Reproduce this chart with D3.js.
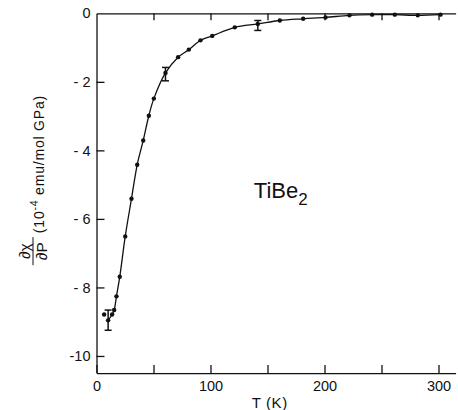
<!DOCTYPE html>
<html>
<head>
<meta charset="utf-8">
<script src="https://cdn.jsdelivr.net/npm/d3@7"></script>
<style>
  html, body { margin: 0; padding: 0; background: #fff; }
  svg { display: block; }
  text { font-family: "Liberation Sans", Arial, sans-serif; fill: #111; }
</style>
</head>
<body>
<svg id="chart" width="458" height="410"></svg>
<script>
// ---- data ----
const temps = [6.7, 10.2, 13.7, 15.5, 17.5, 20.4, 25.2, 30.7, 35.7, 41, 45.9, 50.3, 60.5, 71.6, 81, 91.2, 101.5, 121.3, 141.5, 160.8, 181.3, 200.9, 221.9, 241.8, 261.7, 281.8, 301.8];
const dchi  = [-8.79, -8.96, -8.79, -8.66, -8.26, -7.69, -6.51, -5.41, -4.42, -3.71, -2.99, -2.49, -1.74, -1.28, -1.06, -0.79, -0.66, -0.41, -0.31, -0.21, -0.16, -0.12, -0.06, -0.04, -0.04, -0.06, -0.04];
const errT    = [10.2, 60.5, 141.5];
const errLow  = [-9.25, -1.97, -0.50];
const errHigh = [-8.66, -1.58, -0.21];
const xTicks = [0, 50, 100, 150, 200, 250, 300];
const xTickLabels = ["0", "", "100", "", "200", "", "300"];
const yTicks = [0, -2, -4, -6, -8, -10];
const yTickLabels = ["0", "- 2", "- 4", "- 6", "- 8", "-10"];
const compoundName = "TiBe";
const compoundSub = "2";
const xTitle = "T (K)";

// ---- layout ----
const svg = d3.select("#chart");
const x = d3.scaleLinear().domain([0, 315]).range([96.5, 455.6]);
const y = d3.scaleLinear().domain([-10.5, 0]).range([373.1, 13.3]);

const axisStyle = g => {
  g.selectAll("path.domain").attr("stroke", "#111").attr("stroke-width", 1.3);
  g.selectAll(".tick line").attr("stroke", "#111").attr("stroke-width", 1.3);
  g.selectAll(".tick text").attr("font-size", 14.5).attr("fill", "#111")
    .attr("font-family", "Liberation Sans, Arial, sans-serif");
};

// bottom axis
svg.append("g")
  .attr("transform", `translate(0,${y(-10.5)})`)
  .call(d3.axisBottom(x).tickValues(xTicks).tickSize(-8).tickSizeOuter(0).tickPadding(8)
        .tickFormat((d, i) => xTickLabels[i]))
  .call(axisStyle);

// top axis
svg.append("g")
  .attr("transform", `translate(0,${y(0)})`)
  .call(d3.axisTop(x).tickValues(xTicks.filter(d => d > 0)).tickSize(-7).tickSizeOuter(0).tickFormat(""))
  .call(axisStyle);

// left axis
svg.append("g")
  .attr("transform", `translate(${x(0)},0)`)
  .call(d3.axisLeft(y).tickValues(yTicks).tickSize(-8).tickSizeOuter(0).tickPadding(6)
        .tickFormat((d, i) => yTickLabels[i]))
  .call(axisStyle)
  .call(g => g.selectAll(".tick").filter(d => d === 0).select("line").remove());

// ---- curve ----
const pts = temps.map((t, i) => ({ t, v: dchi[i] }));
const line = d3.line().x(d => x(d.t)).y(d => y(d.v)).curve(d3.curveCatmullRom.alpha(0.5));
svg.append("path")
  .datum(pts.slice(1))
  .attr("d", line)
  .attr("fill", "none")
  .attr("stroke", "#111")
  .attr("stroke-width", 1.3);

// ---- points ----
svg.append("g").selectAll("circle")
  .data(pts)
  .join("circle")
  .attr("cx", d => x(d.t))
  .attr("cy", d => y(d.v))
  .attr("r", 2.2)
  .attr("fill", "#111");

// ---- error bars ----
const eb = svg.append("g").attr("stroke", "#111").attr("stroke-width", 1.5);
errT.forEach((t, i) => {
  eb.append("line").attr("x1", x(t)).attr("x2", x(t)).attr("y1", y(errLow[i])).attr("y2", y(errHigh[i]));
  eb.append("line").attr("x1", x(t) - 3.5).attr("x2", x(t) + 3.5).attr("y1", y(errLow[i])).attr("y2", y(errLow[i]));
  eb.append("line").attr("x1", x(t) - 3.5).attr("x2", x(t) + 3.5).attr("y1", y(errHigh[i])).attr("y2", y(errHigh[i]));
});

// ---- compound label ----
const lbl = svg.append("text").attr("x", x(138)).attr("y", y(-5.4)).attr("font-size", 22);
lbl.append("tspan").text(compoundName);
lbl.append("tspan").attr("dy", 7).attr("font-size", 17).text(compoundSub);

// ---- x title ----
svg.append("text")
  .attr("x", x(152)).attr("y", 408)
  .attr("text-anchor", "middle")
  .attr("font-size", 15)
  .attr("letter-spacing", 0.6)
  .text(xTitle);

// ---- y title (rotated) ----
const yt = svg.append("g").attr("transform", `translate(33,${y(-7.35)}) rotate(-90)`);
yt.append("text").attr("x", 14).attr("y", -3).attr("text-anchor", "middle").attr("font-size", 15.5).text("∂χ");
yt.append("line").attr("x1", 0).attr("x2", 28).attr("y1", 0).attr("y2", 0).attr("stroke", "#111").attr("stroke-width", 1);
yt.append("text").attr("x", 14).attr("y", 14).attr("text-anchor", "middle").attr("font-size", 15.5).text("∂P");
const paren = yt.append("text").attr("x", 32).attr("y", 11).attr("font-size", 14).attr("letter-spacing", 0.8);
paren.append("tspan").text("(10");
paren.append("tspan").attr("dy", -6).attr("font-size", 10.5).text("-4");
paren.append("tspan").attr("dy", 6).text(" emu/mol GPa)");
</script>
</body>
</html>
